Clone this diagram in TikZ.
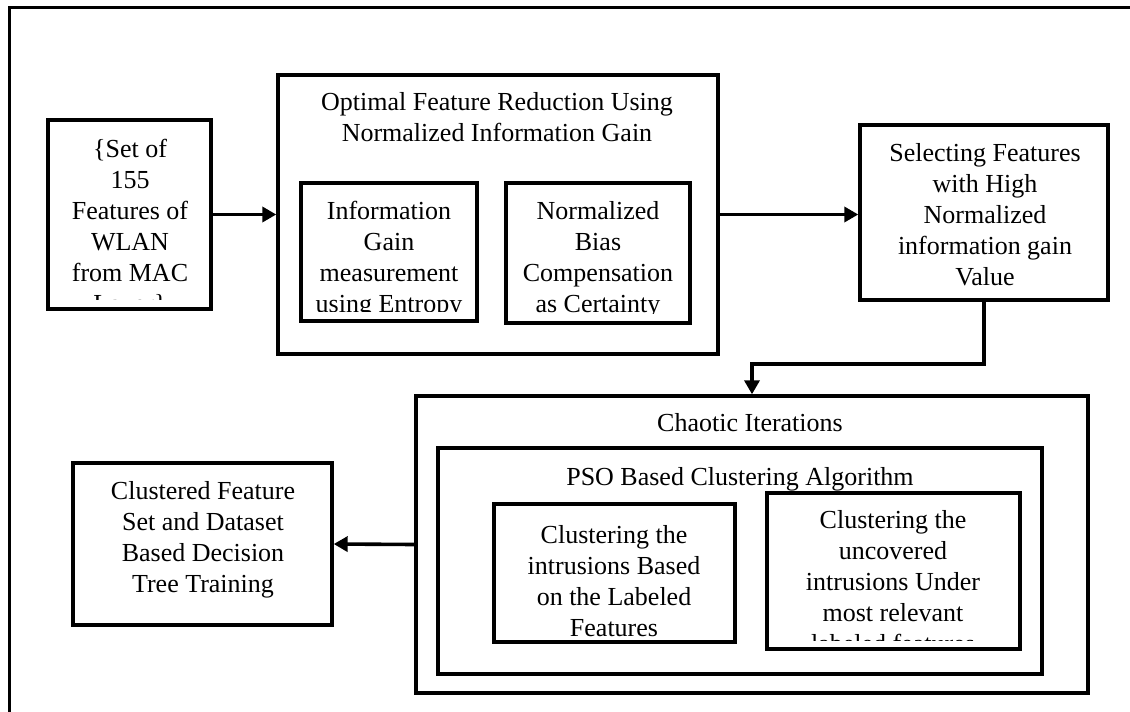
\documentclass[tikz,border=0pt]{standalone}
\usepackage{fontspec}
\setmainfont{Liberation Serif}
\usetikzlibrary{arrows.meta}

\tikzset{
  box/.style={draw, line width=1.7pt, inner sep=0pt},
  txt/.style={align=center, inner sep=0pt, anchor=north, font=\fontsize{13}{15.5}\selectfont},
  arr/.style={line width=1.8pt, -{Triangle[length=7pt,width=7.5pt]}},
}

\begin{document}
\begin{tikzpicture}[x=0.5pt,y=-0.5pt]
	\useasboundingbox (0,0) rectangle (1130,712);
	\draw[line width=1.5pt] (1130,7) -- (9,7) -- (9,712);
	% upper row
	\node[box, minimum width=81.5pt, minimum height=94.5pt] (inp) at (129.5,214.5) {};
	\node[box, minimum width=220pt, minimum height=139.5pt] (ofr) at (498,214.5) {};
	\node[box, minimum width=88pt, minimum height=69pt] (igm) at (389,252) {};
	\node[box, minimum width=92pt, minimum height=70pt] (nbc) at (598,253) {};
	\node[box, minimum width=124pt, minimum height=87.5pt] (sel) at (984,212.5) {};
	\begin{scope}
		\clip ([yshift=5.5pt]inp.south west) rectangle (inp.north east);
		\node[txt] (inptxt) at (130,139) {\{Set of\\155\\Features of\\WLAN\\from MAC\\Layer\}};
	\end{scope}
	\node[txt] (ofrtxt) at (497,92) {Optimal Feature Reduction Using\\Normalized Information Gain};
	\begin{scope}
		\clip ([yshift=5.5pt]igm.south west) rectangle (igm.north east);
		\node[txt] (igmtxt) at (389,201) {Information\\Gain\\measurement\\using Entropy};
	\end{scope}
	\begin{scope}
		\clip ([yshift=5.5pt]nbc.south west) rectangle (nbc.north east);
		\node[txt] (nbctxt) at (598,201) {Normalized\\Bias\\Compensation\\as Certainty};
	\end{scope}
	\node[txt] (seltxt) at (985,143) {Selecting Features\\with High\\Normalized\\information gain\\Value};
	% lower row
	\node[box, minimum width=336pt, minimum height=148.5pt] (chaos) at (752,544.5) {};
	\node[box, minimum width=302pt, minimum height=113pt] (pso) at (740,561) {};
	\node[box, minimum width=120.5pt, minimum height=69pt] (clab) at (614.5,573) {};
	\node[box, minimum width=126.5pt, minimum height=78pt] (cunc) at (893.5,571) {};
	\node[box, minimum width=129.5pt, minimum height=81pt] (dtree) at (202.5,544) {};
	\node[txt] (chaostxt) at (750,413) {Chaotic Iterations};
	\node[txt] (psotxt) at (740,467) {PSO Based Clustering Algorithm};
	\node[txt] (clabtxt) at (614,525) {Clustering the\\intrusions Based\\on the Labeled\\Features};
	\begin{scope}
		\clip ([yshift=5pt]cunc.south west) rectangle (cunc.north east);
		\node[txt] (cunctxt) at (893,510) {Clustering the\\uncovered\\intrusions Under\\most relevant\\labeled features};
	\end{scope}
	\node[txt] (dtreetxt) at (203,481) {Clustered Feature\\Set and Dataset\\Based Decision\\Tree Training};
	% connectors
	\coordinate (turn) at (984,364);
	\draw[arr] (inp.east) -- (ofr.west);
	\draw[arr] (ofr.east) -- (ofr.east -| sel.west);
	\draw[arr] (sel.south) -- (turn) -| (chaos.north);
	\draw[arr] (chaos.west) -- (dtree.east);
\end{tikzpicture}
\end{document}
